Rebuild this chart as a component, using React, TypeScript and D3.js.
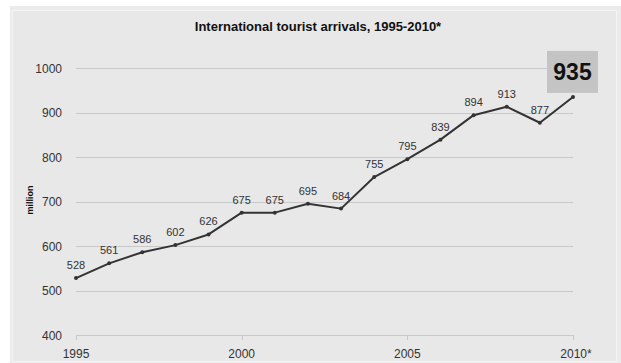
import React from "react";
import * as d3 from "d3";

const years = [1995, 1996, 1997, 1998, 1999, 2000, 2001, 2002, 2003, 2004, 2005, 2006, 2007, 2008, 2009, 2010];
const arrivals = [528, 561, 586, 602, 626, 675, 675, 695, 684, 755, 795, 839, 894, 913, 877, 935];
const yTicks = [400, 500, 600, 700, 800, 900, 1000];
const xTicks = [1995, 2000, 2005, 2010];
const xTickLabels = ["1995", "2000", "2005", "2010*"];
const title = "International tourist arrivals, 1995-2010*";
const yTitle = "million";

const W = 621;
const H = 363;
const FONT = "'Liberation Sans', Arial, sans-serif";

export default function App() {
  const x = d3.scaleLinear().domain([1995, 2010]).range([76, 573]);
  const y = d3.scaleLinear().domain([400, 1000]).range([335, 68]);
  const line = d3
    .line<number>()
    .x((_, i) => x(years[i]))
    .y((d) => y(d));
  const last = arrivals.length - 1;
  return (
    <>
      <style>{"body{margin:0}"}</style>
      <svg width={W} height={H} style={{ display: "block" }} fontFamily={FONT}>
        <rect x={0} y={0} width={W} height={H} fill="#ffffff" />
        <rect x={10} y={6} width={W - 10} height={H - 6} fill="#ebebeb" />
        <rect x={12.5} y={10.5} width={W - 17} height={H - 12} fill="#e8e8e8" stroke="#f4f4f4" strokeWidth={1} />
        <text x={318} y={31} textAnchor="middle" fontSize={13} fontWeight="bold" fill="#111">
          {title}
        </text>
        {yTicks.map((t) => (
          <g key={t}>
            <line x1={x(1995)} x2={x(2010)} y1={Math.round(y(t)) + 0.5} y2={Math.round(y(t)) + 0.5} stroke="#c8c8c8" strokeWidth={1} />
            <text x={62} y={y(t) + 4.5} textAnchor="end" fontSize={12} fill="#333">
              {t}
            </text>
          </g>
        ))}
        {xTicks.map((t, i) => (
          <g key={t}>
            <line x1={Math.round(x(t)) + 0.5} x2={Math.round(x(t)) + 0.5} y1={y(400)} y2={y(400) + 5} stroke="#c8c8c8" />
            <text x={x(t) + (i === 3 ? 3 : 0)} y={358} textAnchor="middle" fontSize={12} fill="#333">
              {xTickLabels[i]}
            </text>
          </g>
        ))}
        <text
          transform={`translate(33,200) rotate(-90)`}
          textAnchor="middle"
          fontSize={9}
          fontWeight="bold"
          fill="#111"
        >
          {yTitle}
        </text>
        <path d={line(arrivals) || ""} fill="none" stroke="#333" strokeWidth={2} strokeLinejoin="round" />
        {arrivals.map((v, i) => (
          <circle key={i} cx={x(years[i])} cy={y(v)} r={2} fill="#333" />
        ))}
        {arrivals.map((v, i) =>
          i === last ? null : (
            <text key={i} x={x(years[i])} y={y(v) - 9} textAnchor="middle" fontSize={11} fill="#333">
              {v}
            </text>
          )
        )}
        <rect x={x(years[last]) - 26} y={y(arrivals[last]) - 46} width={51} height={42} fill="#c4c4c4" />
        <text
          x={x(years[last]) - 0.5}
          y={y(arrivals[last]) - 17}
          textAnchor="middle"
          fontSize={23}
          fontWeight="bold"
          fill="#111"
        >
          {arrivals[last]}
        </text>
      </svg>
    </>
  );
}
